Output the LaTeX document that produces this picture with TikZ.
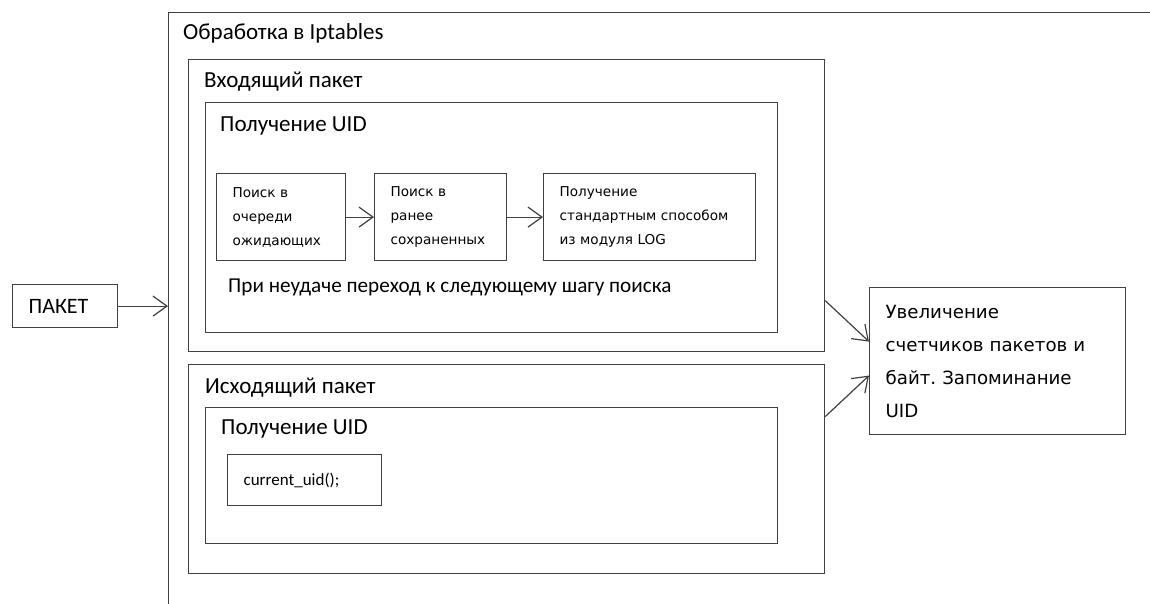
\documentclass[tikz,border=0pt]{standalone}
\usepackage{fontspec}
\setmainfont{Carlito}
\newfontfamily\boxfont{DejaVu Sans}
\frenchspacing
\usetikzlibrary{arrows.meta}

\begin{document}
\begin{tikzpicture}[x=1pt, y=-1pt,
    frame/.style={draw=black!75, line width=1.2pt, rectangle, inner sep=0pt, anchor=north west},
    title/.style={anchor=west, inner sep=0pt, font=\fontsize{23}{26}\selectfont},
    stepbox/.style={draw=black!75, line width=1.2pt, rectangle, anchor=north west, inner xsep=16pt, inner ysep=0pt, align=left, font=\boxfont\fontsize{13.6}{24}\selectfont},
    arr/.style={draw=black!75, line width=1.2pt, -{Straight Barb[length=14pt, width=20pt]}}]
    \path[use as bounding box] (0,0) rectangle (1150,603);
    \clip (0,0) rectangle (1150,603);

    % iptables
    \node[frame, minimum width=1200pt, minimum height=650pt] (proc) at (168,12) {};
    \node[title] (proc-t) at (183,33) {Обработка в Iptables};

    % incoming
    \node[frame, minimum width=636pt, minimum height=292pt] (in) at (188,59) {};
    \node[title] (in-t) at (204,82) {Входящий пакет};
    \node[frame, minimum width=572pt, minimum height=230pt] (in-uid) at (205,102) {};
    \node[title] (in-uid-t) at (220,126) {Получение UID};
    \node[stepbox, text width=97pt, minimum height=87pt] (s1) at (216,173) {Поиск в\\очереди\\ожидающих};
    \node[stepbox, text width=100pt, minimum height=87pt] (s2) at (374,173) {Поиск в\\ранее\\сохраненных};
    \node[stepbox, text width=180pt, minimum height=87pt] (s3) at (543,173) {Получение\\стандартным способом\\из модуля LOG};
    \node[title, font=\fontsize{21.2}{24}\selectfont] (fail) at (228,287) {При неудаче переход к следующему шагу поиска};

    % outgoing
    \node[frame, minimum width=636pt, minimum height=209pt] (out) at (188,364) {};
    \node[title] (out-t) at (205,388) {Исходящий пакет};
    \node[frame, minimum width=572pt, minimum height=136pt] (out-uid) at (205,407) {};
    \node[title] (out-uid-t) at (221,429) {Получение UID};
    \node[stepbox, text width=122pt, minimum height=51pt, font=\fontsize{17}{20}\selectfont] (cur) at (227,454) {current\_uid();};

    % packet and result
    \node[stepbox, text width=73pt, minimum height=43pt, font=\fontsize{22}{24}\selectfont] (pkt) at (12,284) {ПАКЕТ};
    \node[stepbox, text width=224pt, minimum height=147pt, font=\boxfont\fontsize{18.2}{33}\selectfont] (res) at (869,287) {Увеличение\\счетчиков пакетов и\\байт. Запоминание\\UID};

    \draw[arr] (pkt) -- (pkt -| proc.west);
    \draw[arr] (s1) -- (s2);
    \draw[arr] (s2) -- (s3);
    \draw[arr] ([yshift=-95pt]in.east) -- ([yshift=19.5pt]res.west);
    \draw[arr] ([yshift=52.5pt]out.east) -- ([yshift=-14.5pt]res.west);
\end{tikzpicture}
\end{document}
